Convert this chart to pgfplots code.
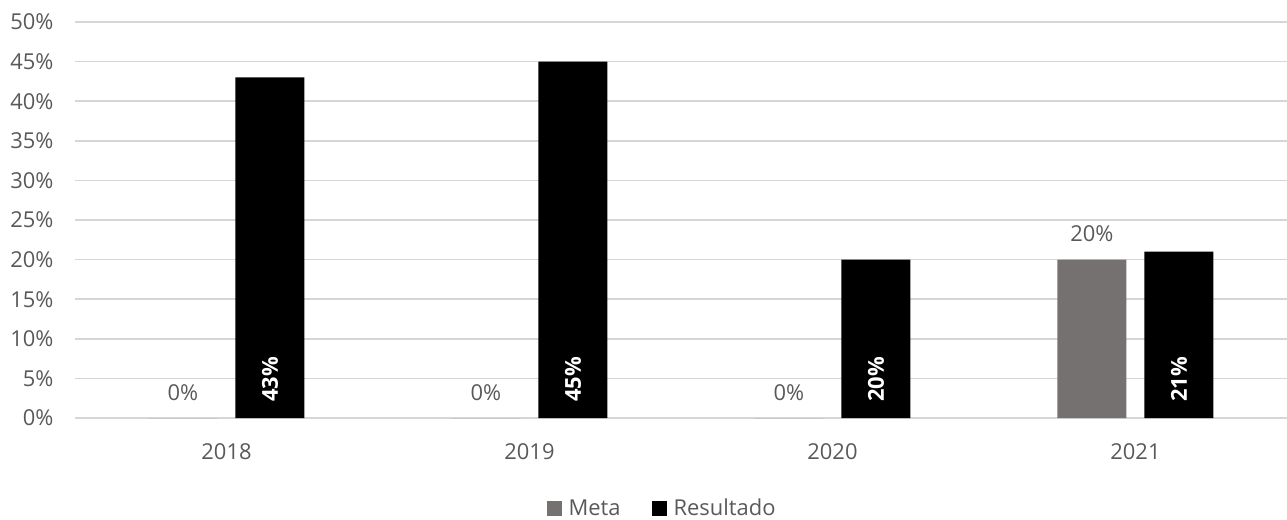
\documentclass[border=0pt]{standalone}
\usepackage{fontspec}
\setmainfont{Open Sans}
\usepackage{pgfplots}
\pgfplotsset{compat=1.18}
\definecolor{metagray}{HTML}{767171}
\definecolor{txtgray}{HTML}{595959}
\definecolor{gridgray}{HTML}{D6D6D6}
\begin{document}
\begin{tikzpicture}
\begin{axis}[
  at={(0,0)}, anchor=south west,
  scale only axis,
  width=1212bp, height=396bp,
  xmin=-0.5, xmax=3.5,
  ymin=0, ymax=50,
  xtick={0,1,2,3},
  xticklabels={2018,2019,2020,2021},
  ytick={0,5,...,50},
  yticklabel={\pgfmathprintnumber{\tick}\%},
  /pgf/number format/assume math mode=true,
  tick style={draw=none},
  axis line style={draw=none},
  ymajorgrids,
  grid style={gridgray, line width=1.6bp},
  font=\fontsize{22}{26}\selectfont,
  ticklabel style={text=txtgray},
  yticklabel style={xshift=-18bp},
  xticklabel style={yshift=-18bp},
  ybar, bar width=69bp,
  legend style={at={(0.484,-0.228)}, anchor=center, draw=none, fill=none,
    legend columns=2, font=\fontsize{22}{26}\selectfont, text=txtgray,
    nodes={inner sep=1bp},
    /tikz/every even column/.append style={column sep=30bp}},
  legend image code/.code={\draw[#1,draw=none] (0bp,-7.5bp) rectangle (15bp,7.5bp);},
  clip=false,
]
\addplot[fill=metagray, draw=none, bar shift=-43.5bp,
  nodes near coords={\pgfmathprintnumber{\pgfplotspointmeta}\%},
  every node near coord/.append style={text=txtgray, yshift=14bp, /pgf/number format/assume math mode=true}]
  coordinates {(0,0) (1,0) (2,0) (3,20)};
\addlegendentry{\hspace{6bp}Meta}
\addplot[fill=black, draw=none, bar shift=43.5bp]
  coordinates {(0,43) (1,45) (2,20) (3,21)};
\addlegendentry{\hspace{6bp}Resultado}
\addplot[forget plot, draw=none, mark=none, only marks, bar shift=43.5bp,
  nodes near coords={\rotatebox{90}{\pgfplotspointmeta}}, point meta=explicit symbolic,
  every node near coord/.append style={text=white, inner sep=0pt, font=\fontsize{22}{26}\selectfont\bfseries}]
  coordinates {(0,2) [43\%] (1,2) [45\%] (2,2) [20\%] (3,2) [21\%]};
\end{axis}
\pgfresetboundingbox
\path[use as bounding box] (-75bp,-102bp) rectangle (1212bp,418bp);
\end{tikzpicture}
\end{document}
